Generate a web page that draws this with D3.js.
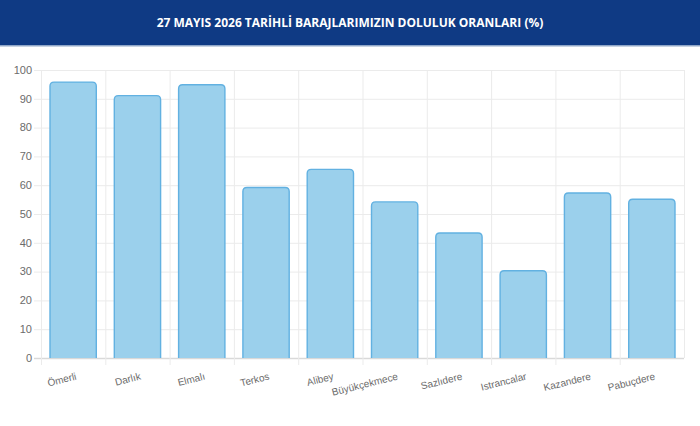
<!DOCTYPE html>
<html>
<head>
<meta charset="utf-8">
<script src="https://cdn.jsdelivr.net/npm/d3@7"></script>
<style>
  body { margin: 0; background: #fff; }
  svg { display: block; }
</style>
</head>
<body>
<script>
// chart data
var title = "27 MAYIS 2026 TARİHLİ BARAJLARIMIZIN DOLULUK ORANLARI (%)";
var dams = ["Ömerli", "Darlık", "Elmalı", "Terkos", "Alibey", "Büyükçekmece",
            "Sazlıdere", "Istrancalar", "Kazandere", "Pabuçdere"];
var fillRates = [95.8, 91.1, 94.9, 59.2, 65.5, 54.2, 43.4, 30.3, 57.3, 55.1];
var yTicks = [0, 10, 20, 30, 40, 50, 60, 70, 80, 90, 100];

var w = 700, h = 426;
var plotLeft = 41, plotRight = 684, plotTop = 70, plotBottom = 358;

var svg = d3.select("body").append("svg")
    .attr("width", w)
    .attr("height", h);

// header band
svg.append("rect")
    .attr("width", w).attr("height", 45)
    .attr("fill", "#0f3a84");
svg.append("rect")
    .attr("y", 45).attr("width", w).attr("height", 1.5)
    .attr("fill", "#8fa6c8");
svg.append("text")
    .attr("x", w / 2).attr("y", 27)
    .attr("text-anchor", "middle")
    .attr("font-family", "'Open Sans', sans-serif")
    .attr("font-weight", "bold")
    .attr("font-size", 12)
    .attr("fill", "#fff")
    .text(title);

var x = d3.scaleBand().domain(dams).range([plotLeft, plotRight]);
var y = d3.scaleLinear().domain([0, 100]).range([plotBottom, plotTop]);

var grid = svg.append("g").attr("class", "grid");

// horizontal grid lines (with little tick stubs on the left)
grid.selectAll(".hline")
    .data(yTicks)
    .enter().append("line")
    .attr("x1", plotLeft - 7).attr("x2", plotRight)
    .attr("y1", function (d) { return y(d) + 0.5; })
    .attr("y2", function (d) { return y(d) + 0.5; })
    .attr("stroke", function (d) { return d === 0 ? "#d9d9d9" : "#ebebeb"; })
    .attr("stroke-width", function (d) { return d === 0 ? 1.5 : 1; });

// vertical grid lines at category boundaries
var xLines = dams.map(function (d) { return x(d); }).concat([plotRight]);
grid.selectAll(".vline")
    .data(xLines)
    .enter().append("line")
    .attr("x1", function (d) { return d + 0.5; })
    .attr("x2", function (d) { return d + 0.5; })
    .attr("y1", plotTop)
    .attr("y2", function (d, i) { return i < dams.length ? plotBottom + 7 : plotBottom; })
    .attr("stroke", "#ebebeb");

// y tick labels
svg.selectAll(".ylab")
    .data(yTicks)
    .enter().append("text")
    .attr("x", plotLeft - 9)
    .attr("y", function (d) { return y(d); })
    .attr("dy", "0.35em")
    .attr("text-anchor", "end")
    .attr("font-family", "'Liberation Sans', Arial, sans-serif")
    .attr("font-size", 11)
    .attr("fill", "#6b6b6b")
    .text(function (d) { return d; });

// bars
var bw = x.bandwidth() * 0.72;
var r = 4;
function barPath(d, i) {
    var cx = x(dams[i]) + x.bandwidth() / 2;
    var x0 = cx - bw / 2, x1 = cx + bw / 2;
    var yt = y(d), yb = y(0);
    return "M" + x0 + "," + yb +
        "L" + x0 + "," + (yt + r) +
        "Q" + x0 + "," + yt + " " + (x0 + r) + "," + yt +
        "L" + (x1 - r) + "," + yt +
        "Q" + x1 + "," + yt + " " + x1 + "," + (yt + r) +
        "L" + x1 + "," + yb;
}
svg.selectAll(".bar")
    .data(fillRates)
    .enter().append("path")
    .attr("class", "bar")
    .attr("d", barPath)
    .attr("fill", "#9bd0ec")
    .attr("stroke", "#62b1e1")
    .attr("stroke-width", 1.4);

// rotated category labels
svg.selectAll(".xlab")
    .data(dams)
    .enter().append("text")
    .attr("transform", function (d) {
        return "translate(" + (x(d) + x.bandwidth() / 2 + 3) + "," + 376 + ") rotate(-14)";
    })
    .attr("text-anchor", "end")
    .attr("dy", "0.35em")
    .attr("font-family", "'Liberation Sans', Arial, sans-serif")
    .attr("font-size", 10)
    .attr("fill", "#6b6b6b")
    .text(function (d) { return d; });
</script>
</body>
</html>
